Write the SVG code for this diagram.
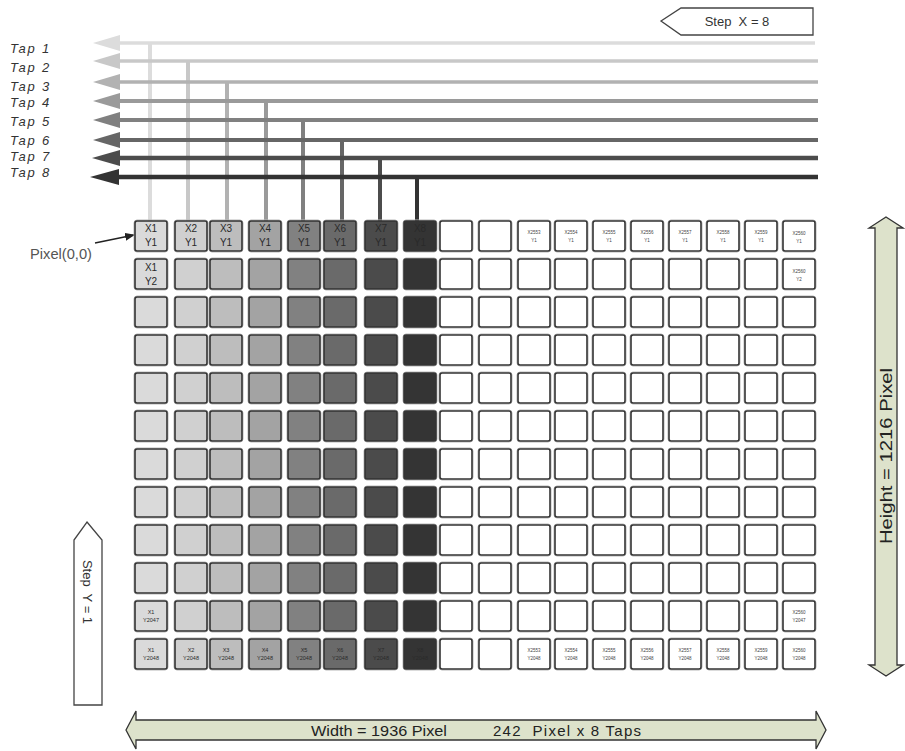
<svg xmlns="http://www.w3.org/2000/svg" xmlns:xlink="http://www.w3.org/1999/xlink" width="905" height="751" viewBox="0 0 905 751">
<style>
text{font-family:"Liberation Sans","DejaVu Sans",sans-serif}
.tap{font-style:italic;font-size:13px;fill:#333;letter-spacing:1.8px}
.f1{fill:#dadada}.f2{fill:#d0d0d0}.f3{fill:#bdbdbd}.f4{fill:#a3a3a3}.f5{fill:#818181}.f6{fill:#6a6a6a}.f7{fill:#4b4b4b}.f8{fill:#343434}
.cl{font-size:10px;fill:#2a2a2a;text-anchor:middle}
.cs{font-size:5.5px;fill:#2a2a2a;text-anchor:middle}
.ct{font-size:4.5px;fill:#444;text-anchor:middle}
.dim{fill:#dde2cb;stroke:#333;stroke-width:1.3}
</style>
<defs>
<g id="cell"><rect x="-1" y="-1" width="34" height="32" rx="3" fill="none" stroke="#b8b8b8" stroke-width="1"/><rect width="32" height="30" rx="2" stroke="#333" stroke-width="1.6"/></g>
<marker id="ah" markerWidth="10" markerHeight="8" refX="9" refY="4" orient="auto" markerUnits="userSpaceOnUse"><path d="M0,0 L10,4 L0,8 z" fill="#222"/></marker>
</defs>

<g id="step-x">
<polygon points="661,21 681,8 813,8 813,35 681,35" fill="#fff" stroke="#444" stroke-width="1.3"/>
<text x="737" y="26" font-size="13" fill="#333" text-anchor="middle" xml:space="preserve">Step  X = 8</text>
</g>

<g id="tap-labels">
<text class="tap" x="10" y="53">Tap 1</text>
<text class="tap" x="10" y="72">Tap 2</text>
<text class="tap" x="10" y="91">Tap 3</text>
<text class="tap" x="10" y="107">Tap 4</text>
<text class="tap" x="10" y="126">Tap 5</text>
<text class="tap" x="10" y="145">Tap 6</text>
<text class="tap" x="10" y="161">Tap 7</text>
<text class="tap" x="10" y="177">Tap 8</text>
</g>

<g id="connectors">
<g id="taps-vertical" stroke-width="4">
<line x1="150" y1="43" x2="150" y2="221" stroke="#dcdcdc"/>
<line x1="188" y1="61" x2="188" y2="221" stroke="#c8c8c8"/>
<line x1="227" y1="82" x2="227" y2="221" stroke="#b2b2b2"/>
<line x1="266" y1="101" x2="266" y2="221" stroke="#9a9a9a"/>
<line x1="303" y1="120" x2="303" y2="221" stroke="#808080"/>
<line x1="342" y1="140" x2="342" y2="221" stroke="#666"/>
<line x1="380" y1="158" x2="380" y2="221" stroke="#4c4c4c"/>
<line x1="417" y1="177" x2="417" y2="221" stroke="#333"/>
</g>
<g id="taps-horizontal">
<line x1="115" y1="43" x2="815" y2="43" stroke="#dcdcdc" stroke-width="3.5"/>
<polygon points="93,43 120,35 120,51" fill="#dcdcdc"/>
<line x1="115" y1="61" x2="818" y2="61" stroke="#c8c8c8" stroke-width="3.5"/>
<polygon points="93,61 120,53 120,69" fill="#c8c8c8"/>
<line x1="115" y1="82" x2="818" y2="82" stroke="#b2b2b2" stroke-width="3.5"/>
<polygon points="93,82 120,74 120,90" fill="#b2b2b2"/>
<line x1="115" y1="101" x2="818" y2="101" stroke="#9a9a9a" stroke-width="4"/>
<polygon points="93,101 120,93 120,109" fill="#9a9a9a"/>
<line x1="115" y1="120" x2="818" y2="120" stroke="#808080" stroke-width="4"/>
<polygon points="93,120 120,112 120,128" fill="#808080"/>
<line x1="115" y1="140" x2="818" y2="140" stroke="#666" stroke-width="4"/>
<polygon points="93,140 120,132 120,148" fill="#666"/>
<line x1="115" y1="158" x2="818" y2="158" stroke="#4c4c4c" stroke-width="4.5"/>
<polygon points="92,158 120,150 120,166" fill="#4c4c4c"/>
<line x1="115" y1="177" x2="818" y2="177" stroke="#333" stroke-width="4.5"/>
<polygon points="90,177 119,169 119,185" fill="#333"/>
</g>
<line id="pixel-arrow" x1="95" y1="243" x2="134" y2="235" stroke="#222" stroke-width="1.3" marker-end="url(#ah)"/>
</g>

<g id="pixel-label"><text x="30" y="259" font-size="14" fill="#555" textLength="62" lengthAdjust="spacingAndGlyphs">Pixel(0,0)</text></g>

<g id="grid">
<g id="row1" transform="translate(0,221)" fill="#fff">
<use xlink:href="#cell" x="135" class="f1"/><use xlink:href="#cell" x="175" class="f2"/><use xlink:href="#cell" x="210" class="f3"/><use xlink:href="#cell" x="249" class="f4"/><use xlink:href="#cell" x="288" class="f5"/><use xlink:href="#cell" x="324" class="f6"/><use xlink:href="#cell" x="365" class="f7"/><use xlink:href="#cell" x="404" class="f8"/><use xlink:href="#cell" x="440"/><use xlink:href="#cell" x="479"/><use xlink:href="#cell" x="518"/><use xlink:href="#cell" x="555"/><use xlink:href="#cell" x="593"/><use xlink:href="#cell" x="631"/><use xlink:href="#cell" x="669"/><use xlink:href="#cell" x="707"/><use xlink:href="#cell" x="745"/><use xlink:href="#cell" x="783"/>
<text class="cl" x="151" y="11">X1</text><text class="cl" x="151" y="25">Y1</text>
<text class="cl" x="191" y="11">X2</text><text class="cl" x="191" y="25">Y1</text>
<text class="cl" x="226" y="11">X3</text><text class="cl" x="226" y="25">Y1</text>
<text class="cl" x="265" y="11">X4</text><text class="cl" x="265" y="25">Y1</text>
<text class="cl" x="304" y="11">X5</text><text class="cl" x="304" y="25">Y1</text>
<text class="cl" x="340" y="11">X6</text><text class="cl" x="340" y="25">Y1</text>
<text class="cl" x="381" y="11">X7</text><text class="cl" x="381" y="25">Y1</text>
<text class="cl" x="420" y="11">X8</text><text class="cl" x="420" y="25">Y1</text>
<text class="ct" x="534" y="13">X2553</text><text class="ct" x="534" y="21">Y1</text>
<text class="ct" x="571" y="13">X2554</text><text class="ct" x="571" y="21">Y1</text>
<text class="ct" x="609" y="13">X2555</text><text class="ct" x="609" y="21">Y1</text>
<text class="ct" x="647" y="13">X2556</text><text class="ct" x="647" y="21">Y1</text>
<text class="ct" x="685" y="13">X2557</text><text class="ct" x="685" y="21">Y1</text>
<text class="ct" x="723" y="13">X2558</text><text class="ct" x="723" y="21">Y1</text>
<text class="ct" x="761" y="13">X2559</text><text class="ct" x="761" y="21">Y1</text>
<text class="ct" x="799" y="14">X2560</text><text class="ct" x="799" y="22">Y1</text>
</g>
<g id="row2" transform="translate(0,259)" fill="#fff">
<use xlink:href="#cell" x="135" class="f1"/><use xlink:href="#cell" x="175" class="f2"/><use xlink:href="#cell" x="210" class="f3"/><use xlink:href="#cell" x="249" class="f4"/><use xlink:href="#cell" x="288" class="f5"/><use xlink:href="#cell" x="324" class="f6"/><use xlink:href="#cell" x="365" class="f7"/><use xlink:href="#cell" x="404" class="f8"/><use xlink:href="#cell" x="440"/><use xlink:href="#cell" x="479"/><use xlink:href="#cell" x="518"/><use xlink:href="#cell" x="555"/><use xlink:href="#cell" x="593"/><use xlink:href="#cell" x="631"/><use xlink:href="#cell" x="669"/><use xlink:href="#cell" x="707"/><use xlink:href="#cell" x="745"/><use xlink:href="#cell" x="783"/>
<text class="cl" x="151" y="12">X1</text><text class="cl" x="151" y="26">Y2</text>
<text class="ct" x="799" y="14">X2560</text><text class="ct" x="799" y="22">Y2</text>
</g>
<g id="row3" transform="translate(0,297)" fill="#fff">
<use xlink:href="#cell" x="135" class="f1"/><use xlink:href="#cell" x="175" class="f2"/><use xlink:href="#cell" x="210" class="f3"/><use xlink:href="#cell" x="249" class="f4"/><use xlink:href="#cell" x="288" class="f5"/><use xlink:href="#cell" x="324" class="f6"/><use xlink:href="#cell" x="365" class="f7"/><use xlink:href="#cell" x="404" class="f8"/><use xlink:href="#cell" x="440"/><use xlink:href="#cell" x="479"/><use xlink:href="#cell" x="518"/><use xlink:href="#cell" x="555"/><use xlink:href="#cell" x="593"/><use xlink:href="#cell" x="631"/><use xlink:href="#cell" x="669"/><use xlink:href="#cell" x="707"/><use xlink:href="#cell" x="745"/><use xlink:href="#cell" x="783"/>
</g>
<g id="row4" transform="translate(0,335)" fill="#fff">
<use xlink:href="#cell" x="135" class="f1"/><use xlink:href="#cell" x="175" class="f2"/><use xlink:href="#cell" x="210" class="f3"/><use xlink:href="#cell" x="249" class="f4"/><use xlink:href="#cell" x="288" class="f5"/><use xlink:href="#cell" x="324" class="f6"/><use xlink:href="#cell" x="365" class="f7"/><use xlink:href="#cell" x="404" class="f8"/><use xlink:href="#cell" x="440"/><use xlink:href="#cell" x="479"/><use xlink:href="#cell" x="518"/><use xlink:href="#cell" x="555"/><use xlink:href="#cell" x="593"/><use xlink:href="#cell" x="631"/><use xlink:href="#cell" x="669"/><use xlink:href="#cell" x="707"/><use xlink:href="#cell" x="745"/><use xlink:href="#cell" x="783"/>
</g>
<g id="row5" transform="translate(0,373)" fill="#fff">
<use xlink:href="#cell" x="135" class="f1"/><use xlink:href="#cell" x="175" class="f2"/><use xlink:href="#cell" x="210" class="f3"/><use xlink:href="#cell" x="249" class="f4"/><use xlink:href="#cell" x="288" class="f5"/><use xlink:href="#cell" x="324" class="f6"/><use xlink:href="#cell" x="365" class="f7"/><use xlink:href="#cell" x="404" class="f8"/><use xlink:href="#cell" x="440"/><use xlink:href="#cell" x="479"/><use xlink:href="#cell" x="518"/><use xlink:href="#cell" x="555"/><use xlink:href="#cell" x="593"/><use xlink:href="#cell" x="631"/><use xlink:href="#cell" x="669"/><use xlink:href="#cell" x="707"/><use xlink:href="#cell" x="745"/><use xlink:href="#cell" x="783"/>
</g>
<g id="row6" transform="translate(0,411)" fill="#fff">
<use xlink:href="#cell" x="135" class="f1"/><use xlink:href="#cell" x="175" class="f2"/><use xlink:href="#cell" x="210" class="f3"/><use xlink:href="#cell" x="249" class="f4"/><use xlink:href="#cell" x="288" class="f5"/><use xlink:href="#cell" x="324" class="f6"/><use xlink:href="#cell" x="365" class="f7"/><use xlink:href="#cell" x="404" class="f8"/><use xlink:href="#cell" x="440"/><use xlink:href="#cell" x="479"/><use xlink:href="#cell" x="518"/><use xlink:href="#cell" x="555"/><use xlink:href="#cell" x="593"/><use xlink:href="#cell" x="631"/><use xlink:href="#cell" x="669"/><use xlink:href="#cell" x="707"/><use xlink:href="#cell" x="745"/><use xlink:href="#cell" x="783"/>
</g>
<g id="row7" transform="translate(0,449)" fill="#fff">
<use xlink:href="#cell" x="135" class="f1"/><use xlink:href="#cell" x="175" class="f2"/><use xlink:href="#cell" x="210" class="f3"/><use xlink:href="#cell" x="249" class="f4"/><use xlink:href="#cell" x="288" class="f5"/><use xlink:href="#cell" x="324" class="f6"/><use xlink:href="#cell" x="365" class="f7"/><use xlink:href="#cell" x="404" class="f8"/><use xlink:href="#cell" x="440"/><use xlink:href="#cell" x="479"/><use xlink:href="#cell" x="518"/><use xlink:href="#cell" x="555"/><use xlink:href="#cell" x="593"/><use xlink:href="#cell" x="631"/><use xlink:href="#cell" x="669"/><use xlink:href="#cell" x="707"/><use xlink:href="#cell" x="745"/><use xlink:href="#cell" x="783"/>
</g>
<g id="row8" transform="translate(0,487)" fill="#fff">
<use xlink:href="#cell" x="135" class="f1"/><use xlink:href="#cell" x="175" class="f2"/><use xlink:href="#cell" x="210" class="f3"/><use xlink:href="#cell" x="249" class="f4"/><use xlink:href="#cell" x="288" class="f5"/><use xlink:href="#cell" x="324" class="f6"/><use xlink:href="#cell" x="365" class="f7"/><use xlink:href="#cell" x="404" class="f8"/><use xlink:href="#cell" x="440"/><use xlink:href="#cell" x="479"/><use xlink:href="#cell" x="518"/><use xlink:href="#cell" x="555"/><use xlink:href="#cell" x="593"/><use xlink:href="#cell" x="631"/><use xlink:href="#cell" x="669"/><use xlink:href="#cell" x="707"/><use xlink:href="#cell" x="745"/><use xlink:href="#cell" x="783"/>
</g>
<g id="row9" transform="translate(0,525)" fill="#fff">
<use xlink:href="#cell" x="135" class="f1"/><use xlink:href="#cell" x="175" class="f2"/><use xlink:href="#cell" x="210" class="f3"/><use xlink:href="#cell" x="249" class="f4"/><use xlink:href="#cell" x="288" class="f5"/><use xlink:href="#cell" x="324" class="f6"/><use xlink:href="#cell" x="365" class="f7"/><use xlink:href="#cell" x="404" class="f8"/><use xlink:href="#cell" x="440"/><use xlink:href="#cell" x="479"/><use xlink:href="#cell" x="518"/><use xlink:href="#cell" x="555"/><use xlink:href="#cell" x="593"/><use xlink:href="#cell" x="631"/><use xlink:href="#cell" x="669"/><use xlink:href="#cell" x="707"/><use xlink:href="#cell" x="745"/><use xlink:href="#cell" x="783"/>
</g>
<g id="row10" transform="translate(0,563)" fill="#fff">
<use xlink:href="#cell" x="135" class="f1"/><use xlink:href="#cell" x="175" class="f2"/><use xlink:href="#cell" x="210" class="f3"/><use xlink:href="#cell" x="249" class="f4"/><use xlink:href="#cell" x="288" class="f5"/><use xlink:href="#cell" x="324" class="f6"/><use xlink:href="#cell" x="365" class="f7"/><use xlink:href="#cell" x="404" class="f8"/><use xlink:href="#cell" x="440"/><use xlink:href="#cell" x="479"/><use xlink:href="#cell" x="518"/><use xlink:href="#cell" x="555"/><use xlink:href="#cell" x="593"/><use xlink:href="#cell" x="631"/><use xlink:href="#cell" x="669"/><use xlink:href="#cell" x="707"/><use xlink:href="#cell" x="745"/><use xlink:href="#cell" x="783"/>
</g>
<g id="row11" transform="translate(0,601)" fill="#fff">
<use xlink:href="#cell" x="135" class="f1"/><use xlink:href="#cell" x="175" class="f2"/><use xlink:href="#cell" x="210" class="f3"/><use xlink:href="#cell" x="249" class="f4"/><use xlink:href="#cell" x="288" class="f5"/><use xlink:href="#cell" x="324" class="f6"/><use xlink:href="#cell" x="365" class="f7"/><use xlink:href="#cell" x="404" class="f8"/><use xlink:href="#cell" x="440"/><use xlink:href="#cell" x="479"/><use xlink:href="#cell" x="518"/><use xlink:href="#cell" x="555"/><use xlink:href="#cell" x="593"/><use xlink:href="#cell" x="631"/><use xlink:href="#cell" x="669"/><use xlink:href="#cell" x="707"/><use xlink:href="#cell" x="745"/><use xlink:href="#cell" x="783"/>
<text class="cs" x="151" y="13">X1</text><text class="cs" x="151" y="21">Y2047</text>
<text class="ct" x="799" y="13">X2560</text><text class="ct" x="799" y="21">Y2047</text>
</g>
<g id="row12" transform="translate(0,639)" fill="#fff">
<use xlink:href="#cell" x="135" class="f1"/><use xlink:href="#cell" x="175" class="f2"/><use xlink:href="#cell" x="210" class="f3"/><use xlink:href="#cell" x="249" class="f4"/><use xlink:href="#cell" x="288" class="f5"/><use xlink:href="#cell" x="324" class="f6"/><use xlink:href="#cell" x="365" class="f7"/><use xlink:href="#cell" x="404" class="f8"/><use xlink:href="#cell" x="440"/><use xlink:href="#cell" x="479"/><use xlink:href="#cell" x="518"/><use xlink:href="#cell" x="555"/><use xlink:href="#cell" x="593"/><use xlink:href="#cell" x="631"/><use xlink:href="#cell" x="669"/><use xlink:href="#cell" x="707"/><use xlink:href="#cell" x="745"/><use xlink:href="#cell" x="783"/>
<text class="cs" x="151" y="13">X1</text><text class="cs" x="151" y="21">Y2048</text>
<text class="cs" x="191" y="13">X2</text><text class="cs" x="191" y="21">Y2048</text>
<text class="cs" x="226" y="13">X3</text><text class="cs" x="226" y="21">Y2048</text>
<text class="cs" x="265" y="13">X4</text><text class="cs" x="265" y="21">Y2048</text>
<text class="cs" x="304" y="13">X5</text><text class="cs" x="304" y="21">Y2048</text>
<text class="cs" x="340" y="13">X6</text><text class="cs" x="340" y="21">Y2048</text>
<text class="cs" x="381" y="13">X7</text><text class="cs" x="381" y="21">Y2048</text>
<text class="cs" x="420" y="13">X8</text><text class="cs" x="420" y="21">Y2048</text>
<text class="ct" x="534" y="13">X2553</text><text class="ct" x="534" y="21">Y2048</text>
<text class="ct" x="571" y="13">X2554</text><text class="ct" x="571" y="21">Y2048</text>
<text class="ct" x="609" y="13">X2555</text><text class="ct" x="609" y="21">Y2048</text>
<text class="ct" x="647" y="13">X2556</text><text class="ct" x="647" y="21">Y2048</text>
<text class="ct" x="685" y="13">X2557</text><text class="ct" x="685" y="21">Y2048</text>
<text class="ct" x="723" y="13">X2558</text><text class="ct" x="723" y="21">Y2048</text>
<text class="ct" x="761" y="13">X2559</text><text class="ct" x="761" y="21">Y2048</text>
<text class="ct" x="799" y="13">X2560</text><text class="ct" x="799" y="21">Y2048</text>
</g>
</g>

<g id="step-y">
<polygon points="87,522 102,540 102,705 74,705 74,540" fill="#fff" stroke="#444" stroke-width="1.3"/>
<text transform="translate(83,592) rotate(90)" font-size="13" fill="#333" text-anchor="middle" xml:space="preserve">Step  Y = 1</text>
</g>

<g id="height-dim">
<polygon class="dim" points="886,217 903,228 897,228 897,665 903,665 886,676 869,665 875,665 875,228 869,228"/>
<text transform="translate(892,456) rotate(-90)" font-size="17" fill="#222" text-anchor="middle" textLength="176" lengthAdjust="spacingAndGlyphs">Height = 1216 Pixel</text>
</g>

<g id="width-dim">
<polygon class="dim" points="126,730 136,711 136,720 816,720 816,711 826,730 816,749 816,740 136,740 136,749"/>
<text x="311" y="736" font-size="15" fill="#222" textLength="136" lengthAdjust="spacingAndGlyphs">Width = 1936 Pixel</text>
<text x="493" y="736" font-size="15" fill="#222" textLength="148" lengthAdjust="spacing" xml:space="preserve">242  Pixel x 8 Taps</text>
</g>
</svg>
